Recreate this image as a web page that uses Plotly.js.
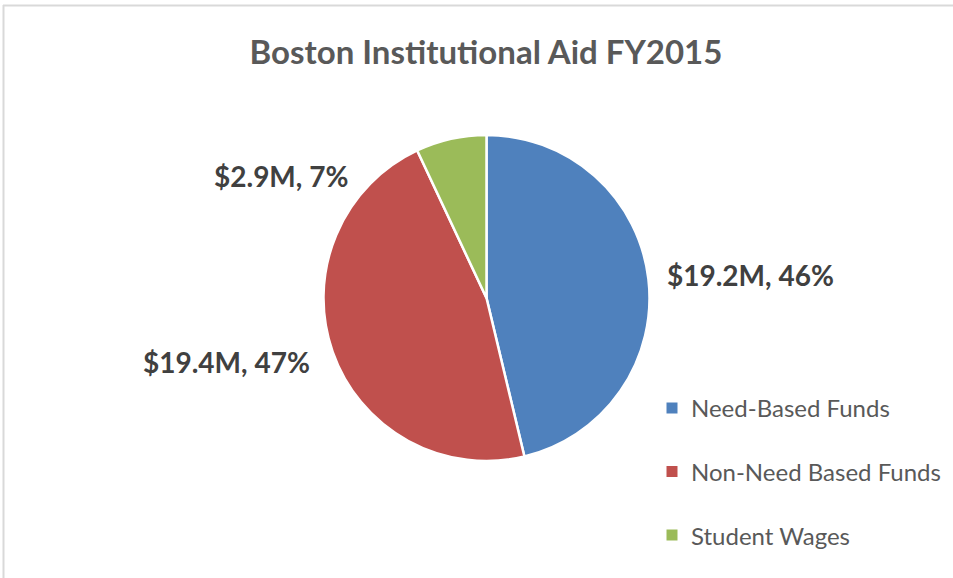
<!DOCTYPE html>
<html>
<head>
<meta charset="utf-8">
<script src="https://cdn.plot.ly/plotly-3.0.1.min.js"></script>
<style>
  html, body { margin: 0; padding: 0; background: #fff; }
  #chart { width: 953px; height: 578px; }
</style>
</head>
<body>
<div id="chart"></div>
<script>
const categories = ["Need-Based Funds", "Non-Need Based Funds", "Student Wages"];
const valuesM = [19.2, 19.4, 2.9];
const sliceColors = ["#4F81BD", "#C0504D", "#9BBB59"];

// label positions (paper coords) for each slice's data label
const labelPos = [[0.787, 0.524], [0.238, 0.374], [0.295, 0.6955]];

const total = valuesM.reduce((a, b) => a + b, 0);

const annotations = valuesM.map((v, i) => ({
  xref: "paper", yref: "paper",
  x: labelPos[i][0], y: labelPos[i][1],
  xanchor: "center", yanchor: "middle",
  showarrow: false,
  text: "<b>$" + v.toFixed(1) + "M, " + Math.round(v / total * 100) + "%</b>",
  font: { family: "Lato, 'Open Sans', sans-serif", size: 28, color: "#404040" }
}));

// manual legend
const legX = 672 / 953, legTextX = 689 / 953;
const legY0 = 408, legGap = 63.5;
const shapes = [];
categories.forEach((c, i) => {
  const cy = legY0 + i * legGap;
  shapes.push({
    type: "rect", xref: "paper", yref: "paper",
    x0: (legX * 953 - 5.5) / 953, x1: (legX * 953 + 5.5) / 953,
    y0: (578 - cy - 5.5) / 578, y1: (578 - cy + 5.5) / 578,
    fillcolor: sliceColors[i], line: { width: 0 }
  });
  annotations.push({
    xref: "paper", yref: "paper",
    x: legTextX, y: (578 - cy) / 578,
    xanchor: "left", yanchor: "middle", showarrow: false,
    text: c,
    font: { family: "Lato, 'Open Sans', sans-serif", size: 24, color: "#595959" }
  });
});

// chart border
shapes.push({ type: "line", xref: "paper", yref: "paper",
  x0: 3.5 / 953, x1: 3.5 / 953, y0: 0, y1: (578 - 5) / 578,
  line: { color: "#D9D9D9", width: 2 } });
shapes.push({ type: "line", xref: "paper", yref: "paper",
  x0: 3 / 953, x1: 1, y0: (578 - 5.5) / 578, y1: (578 - 5.5) / 578,
  line: { color: "#D9D9D9", width: 2 } });

const data = [{
  type: "pie",
  labels: categories,
  values: valuesM,
  marker: { colors: sliceColors, line: { color: "#FFFFFF", width: 2.5 } },
  sort: false,
  direction: "clockwise",
  rotation: 0,
  textinfo: "none",
  hoverinfo: "skip",
  showlegend: false,
  domain: { x: [(486.5 - 163) / 953, (486.5 + 163) / 953], y: [(280 - 163) / 578, (280 + 163) / 578] }
}];

const layout = {
  width: 953, height: 578,
  margin: { l: 0, r: 0, t: 0, b: 0 },
  paper_bgcolor: "#FFFFFF",
  showlegend: false,
  title: {
    text: "<b>Boston Institutional Aid FY2015</b>",
    x: 486 / 953, xanchor: "center",
    y: (578 - 52) / 578, yanchor: "middle",
    font: { family: "Lato, 'Open Sans', sans-serif", size: 33, color: "#595959" }
  },
  annotations: annotations,
  shapes: shapes
};

Plotly.newPlot("chart", data, layout, { displayModeBar: false, staticPlot: true });
</script>
</body>
</html>
